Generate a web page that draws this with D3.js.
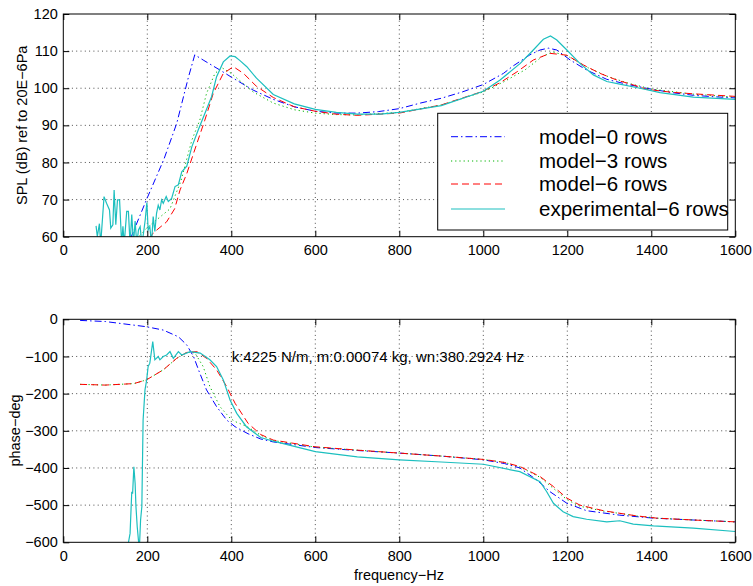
<!DOCTYPE html>
<html lang="en">
<head>
<meta charset="UTF-8">
<title>SPL and phase vs frequency</title>
<script src="https://d3js.org/d3.v7.min.js"></script>
<style>
  body { margin: 0; background: #fff; }
  text { font-family: "Liberation Sans", Arial, Helvetica, sans-serif; }
</style>
</head>
<body>
<svg id="chart" width="753" height="586"></svg>
<script>
// ---- data ----
const xTicks = [0, 200, 400, 600, 800, 1000, 1200, 1400, 1600];
const splTicks = [60, 70, 80, 90, 100, 110, 120];
const phaseTicks = [-600, -500, -400, -300, -200, -100, 0];

const labels = ["model\u22120 rows", "model\u22123 rows", "model\u22126 rows", "experimental\u22126 rows"];

// SPL (dB)
const splFreq0 = [160, 200, 240, 270, 298, 313, 333, 373, 400, 452, 500, 550, 600, 650, 700, 750, 800, 850, 900, 950, 1000, 1048, 1071, 1111, 1135, 1155, 1175, 1207, 1246, 1294, 1341, 1388, 1450, 1500, 1550, 1600];
const spl0 = [59.5, 70.5, 81, 90.5, 103, 109, 107.6, 104.9, 103, 99.5, 97, 95, 93.8, 93.3, 93.3, 93.7, 94.5, 96, 97.3, 99, 101, 104, 106, 109, 110.3, 110.8, 110.3, 107.6, 104.9, 102.4, 101.1, 100, 98.8, 98.1, 97.7, 97.4];

const splFreq3 = [175, 200, 254, 280, 306, 325, 341, 361, 378, 400, 452, 500, 550, 600, 650, 700, 800, 900, 1000, 1050, 1100, 1140, 1165, 1200, 1250, 1300, 1350, 1400, 1500, 1600];
const spl3 = [59.5, 62.5, 67.5, 75, 86, 91.4, 98.6, 104, 105.5, 104, 99, 96, 94.2, 93.3, 92.9, 92.8, 93.5, 95.5, 99, 101.8, 105, 108.5, 109.8, 108.7, 105.5, 103, 101.2, 99.8, 98.4, 97.6];

const splFreq6 = [205, 214, 246, 265, 278, 294, 318, 337, 357, 381, 405, 429, 460, 500, 550, 600, 650, 700, 800, 900, 1000, 1040, 1080, 1119, 1159, 1199, 1238, 1278, 1318, 1357, 1389, 1450, 1500, 1600];
const spl6 = [59.5, 61, 64, 67.5, 72.6, 77, 85.1, 91.4, 98.6, 104, 105.8, 104, 100.5, 97.5, 95, 93.8, 93, 92.7, 93.3, 95.5, 99.2, 101.5, 104.4, 107.6, 109.4, 108.9, 106.3, 104, 102.2, 100.9, 99.7, 98.9, 98.5, 97.8];

const splFreqExp = [78, 81, 86, 89, 97, 103, 110, 113, 118, 121, 125, 129, 134, 139, 142, 145, 151, 155, 159, 163, 167, 171, 175, 179, 183, 187, 191, 195, 199, 202, 206, 210, 214, 218, 222, 226, 230, 234, 238, 245, 250, 258, 266, 274, 282, 294, 306, 321, 337, 353, 365, 381, 397, 409, 420, 437, 460, 500, 550, 600, 650, 700, 755, 800, 900, 1000, 1040, 1088, 1119, 1143, 1160, 1175, 1199, 1230, 1262, 1294, 1325, 1373, 1421, 1500, 1600];
const splExp = [62.9, 60, 63.5, 58, 70.8, 69, 67.2, 62.3, 63.2, 72.6, 63.2, 69.9, 69.9, 58, 62.8, 58, 66.8, 66.8, 58, 66, 58, 64.2, 58, 61.8, 62.7, 58, 61, 64.5, 69.2, 61.8, 62.7, 58, 65.4, 61.4, 66.3, 68.5, 67.2, 69.9, 69, 70.8, 69.5, 70.3, 73.5, 74, 77.5, 79, 84.2, 88.7, 93.2, 97.7, 103.1, 107.1, 108.7, 108.5, 107.5, 105.8, 102.7, 98.3, 95.8, 94.3, 93.5, 93, 93, 93.5, 95.3, 99.2, 102.2, 106.7, 110.3, 113.2, 114.1, 113, 110.3, 106.7, 103.6, 101.8, 101.1, 100, 98.8, 97.6, 97];

// phase (deg)
const phFreq0 = [40, 100, 135, 198, 238, 274, 294, 310, 325, 341, 365, 389, 409, 440, 470, 500, 600, 700, 800, 900, 1000, 1050, 1087, 1127, 1159, 1199, 1246, 1325, 1405, 1500, 1600];
const ph0 = [-3, -6, -11, -20, -29, -47, -69, -100, -145, -190, -235, -271, -289, -308, -322, -330, -345, -353, -360, -368, -378, -388, -400, -432, -464, -495, -515, -527, -535, -540, -545];

const phFreq3 = [40, 100, 168, 198, 238, 270, 294, 313, 333, 349, 373, 397, 409, 440, 470, 500, 600, 700, 800, 900, 1000, 1050, 1087, 1135, 1167, 1199, 1230, 1286, 1365, 1413, 1500, 1600];
const ph3 = [-175, -177, -173, -163, -136, -105, -89, -90, -127, -181, -235, -266, -275, -290, -312, -326, -344, -352, -360, -368, -377, -385, -397, -425, -455, -485, -503, -516, -529, -535, -540, -545];

const phFreq6 = [40, 100, 168, 198, 238, 270, 294, 318, 341, 365, 389, 409, 440, 470, 500, 600, 700, 800, 900, 1000, 1050, 1087, 1135, 1167, 1199, 1230, 1286, 1365, 1413, 1500, 1600];
const ph6 = [-175, -177, -173, -163, -136, -105, -89, -87, -105, -136, -181, -226, -280, -310, -325, -343, -352, -360, -368, -377, -385, -396, -423, -450, -481, -500, -515, -529, -535, -540, -545];

const phFreqExp = [152, 159, 163, 165, 168, 171, 173, 176, 181, 184, 187, 190, 194.5, 198.5, 202, 206, 213, 218, 226, 230, 238, 246, 254, 262, 274, 282, 302, 326, 349, 365, 381, 397, 413, 436, 470, 500, 600, 700, 800, 900, 1000, 1087, 1135, 1151, 1167, 1190, 1214, 1246, 1294, 1325, 1357, 1405, 1500, 1600];
const phExp = [-620, -576, -464, -469, -397, -441, -504, -558, -620, -540, -504, -271, -190, -163, -127, -118, -60, -109, -100, -109, -100, -96, -87, -105, -87, -96, -87, -91, -109, -127, -163, -217, -253, -289, -318, -328, -356, -370, -378, -384, -390, -410, -437, -464, -495, -518, -531, -538, -545, -542, -551, -556, -562, -571];

// ---- styles ----
const styles = [
  { color: "#0000ff", dash: "7,3,1.5,3", width: 1 },
  { color: "#00b400", dash: "1.2,3", width: 1 },
  { color: "#ff0000", dash: "7,4", width: 1 },
  { color: "#1cbfbf", dash: null, width: 1.2 }
];

const splSeries = [[splFreq0, spl0], [splFreq3, spl3], [splFreq6, spl6], [splFreqExp, splExp]];
const phSeries = [[phFreq0, ph0], [phFreq3, ph3], [phFreq6, ph6], [phFreqExp, phExp]];

const svg = d3.select("#chart");
const left = 63.3, right = 735.3;
const x = d3.scaleLinear().domain([0, 1600]).range([left, right]);
const ySpl = d3.scaleLinear().domain([60, 120]).range([236.7, 14]);
const yPh = d3.scaleLinear().domain([-600, 0]).range([542.3, 319.3]);

function panel(name, y, yTicks, series) {
  const [y0, y1] = y.range();
  const g = svg.append("g");

  svg.append("defs").append("clipPath").attr("id", "clip-" + name)
    .append("rect").attr("x", left).attr("y", y1).attr("width", right - left).attr("height", y0 - y1);

  // dotted grid
  g.selectAll(".gx").data(xTicks.slice(1, -1)).enter().append("line")
    .attr("x1", d => x(d)).attr("x2", d => x(d)).attr("y1", y0).attr("y2", y1)
    .attr("stroke", "#000").attr("stroke-width", 0.7).attr("stroke-dasharray", "1,3.3");
  g.selectAll(".gy").data(yTicks.slice(1, -1)).enter().append("line")
    .attr("x1", left).attr("x2", right).attr("y1", d => y(d)).attr("y2", d => y(d))
    .attr("stroke", "#000").attr("stroke-width", 0.7).attr("stroke-dasharray", "1,3.3");

  // curves
  const line = d3.line().x(d => x(d[0])).y(d => y(d[1]));
  const lines = g.append("g").attr("clip-path", `url(#clip-${name})`);
  series.forEach(([fs, vs], i) => {
    const pts = fs.map((f, k) => [f, vs[k]]);
    lines.append("path").datum(pts).attr("d", line)
      .attr("fill", "none").attr("stroke", styles[i].color)
      .attr("stroke-width", styles[i].width)
      .attr("stroke-dasharray", styles[i].dash);
  });

  // axes with inward ticks
  const fmt = d3.format("");
  const axB = g.append("g").attr("transform", `translate(0,${y0})`)
    .call(d3.axisBottom(x).tickValues(xTicks).tickSizeInner(-6).tickSizeOuter(0).tickPadding(8).tickFormat(fmt));
  const axT = g.append("g").attr("transform", `translate(0,${y1})`)
    .call(d3.axisTop(x).tickValues(xTicks).tickSizeInner(-6).tickSizeOuter(0).tickFormat(""));
  const axL = g.append("g").attr("transform", `translate(${left},0)`)
    .call(d3.axisLeft(y).tickValues(yTicks).tickSizeInner(-6).tickSizeOuter(0).tickPadding(5.5).tickFormat(d3.format("")));
  const axR = g.append("g").attr("transform", `translate(${right},0)`)
    .call(d3.axisRight(y).tickValues(yTicks).tickSizeInner(-6).tickSizeOuter(0).tickFormat(""));
  [axB, axT, axL, axR].forEach(a => {
    a.select(".domain").remove();
    a.selectAll("text").attr("font-size", 14.5).attr("fill", "#000")
      .style("font-family", '"Liberation Sans", Arial, sans-serif');
    a.selectAll("line").attr("stroke", "#000");
  });

  g.append("rect").attr("x", left).attr("y", y1).attr("width", right - left).attr("height", y0 - y1)
    .attr("fill", "none").attr("stroke", "#000").attr("stroke-width", 1);
  return g;
}

panel("spl", ySpl, splTicks, splSeries);
panel("ph", yPh, phaseTicks, phSeries);

// axis titles
svg.append("text").attr("transform", "translate(22,125.3) rotate(-90)")
  .attr("text-anchor", "middle").attr("dy", "0.35em").attr("font-size", 14.5)
  .text("SPL (dB) ref to 20E\u22126Pa");
svg.append("text").attr("transform", "translate(15,430.5) rotate(-90)")
  .attr("text-anchor", "middle").attr("dy", "0.35em").attr("font-size", 14.5)
  .text("phase\u2212deg");
svg.append("text").attr("x", 399).attr("y", 575).attr("text-anchor", "middle")
  .attr("dy", "0.35em").attr("font-size", 14.5).text("frequency\u2212Hz");

// annotation
svg.append("text").attr("x", 231.7).attr("y", 357).attr("dy", "0.35em")
  .attr("font-size", 15).text("k:4225 N/m, m:0.00074 kg, wn:380.2924 Hz");

// legend
const lg = svg.append("g");
lg.append("rect").attr("x", 437.7).attr("y", 113.3).attr("width", 290).attr("height", 116.7)
  .attr("fill", "#fff").attr("stroke", "#000").attr("stroke-width", 1);
const rowY = [136.7, 161, 184, 209];
labels.forEach((lab, i) => {
  lg.append("line").attr("x1", 451).attr("x2", 505).attr("y1", rowY[i]).attr("y2", rowY[i])
    .attr("stroke", styles[i].color).attr("stroke-width", styles[i].width)
    .attr("stroke-dasharray", styles[i].dash);
  lg.append("text").attr("x", 539).attr("y", rowY[i]).attr("dy", "0.35em")
    .attr("font-size", 20.5).text(lab);
});
</script>
</body>
</html>
